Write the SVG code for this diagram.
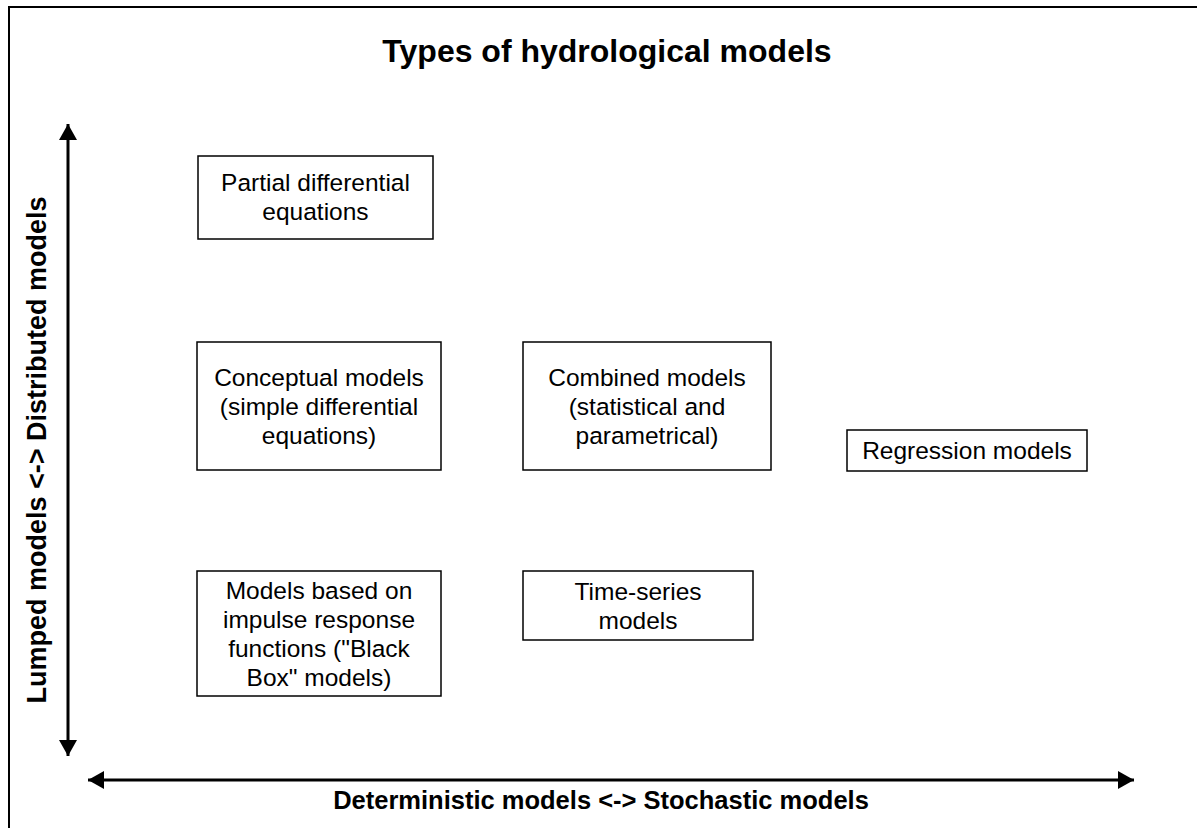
<svg xmlns="http://www.w3.org/2000/svg" width="1197" height="828" viewBox="0 0 1197 828">
<style>
.box{fill:#fff;stroke:#000;stroke-width:1.5}
.t{font-family:"Liberation Sans",Arial,sans-serif;font-size:24.5px;fill:#000;text-anchor:middle}
.b{font-weight:bold}
.ax{stroke:#000;stroke-width:3;fill:none}
</style>
<defs>
<marker id="ah" viewBox="0 0 16 18" refX="16" refY="9" markerWidth="16" markerHeight="18" markerUnits="userSpaceOnUse" orient="auto-start-reverse">
<path d="M0,0 L16,9 L0,18 Z" fill="#000"/>
</marker>
</defs>
<rect width="1197" height="828" fill="#fff"/>
<rect x="9" y="7" width="1200" height="840" fill="none" stroke="#000" stroke-width="2"/>
<text class="t b" x="607" y="62" style="font-size:32px">Types of hydrological models</text>
<g id="connectors">
<line class="ax" x1="68" y1="124" x2="68" y2="756" marker-start="url(#ah)" marker-end="url(#ah)"/>
<line class="ax" x1="88" y1="780" x2="1134" y2="780" marker-start="url(#ah)" marker-end="url(#ah)"/>
</g>
<text class="t b" transform="translate(46,450) rotate(-90)" x="0" y="0" style="font-size:27px">Lumped models &lt;-&gt; Distributed models</text>
<text class="t b" x="601" y="809" style="font-size:25.5px">Deterministic models &lt;-&gt; Stochastic models</text>
<g id="partial">
<rect class="box" x="198" y="156" width="235" height="83"/>
<text class="t" x="315.5" y="191">Partial differential</text>
<text class="t" x="315.5" y="220">equations</text>
</g>
<g id="conceptual">
<rect class="box" x="197" y="342" width="244" height="128"/>
<text class="t" x="319" y="386">Conceptual models</text>
<text class="t" x="319" y="415">(simple differential</text>
<text class="t" x="319" y="444">equations)</text>
</g>
<g id="combined">
<rect class="box" x="523" y="342" width="248" height="128"/>
<text class="t" x="647" y="386">Combined models</text>
<text class="t" x="647" y="415">(statistical and</text>
<text class="t" x="647" y="444">parametrical)</text>
</g>
<g id="regression">
<rect class="box" x="847" y="430" width="240" height="41"/>
<text class="t" x="967" y="459">Regression models</text>
</g>
<g id="blackbox">
<rect class="box" x="197" y="571" width="244" height="125"/>
<text class="t" x="319" y="599">Models based on</text>
<text class="t" x="319" y="628">impulse response</text>
<text class="t" x="319" y="657">functions ("Black</text>
<text class="t" x="319" y="686">Box" models)</text>
</g>
<g id="timeseries">
<rect class="box" x="523" y="571" width="230" height="69"/>
<text class="t" x="638" y="600">Time-series</text>
<text class="t" x="638" y="629">models</text>
</g>
</svg>
